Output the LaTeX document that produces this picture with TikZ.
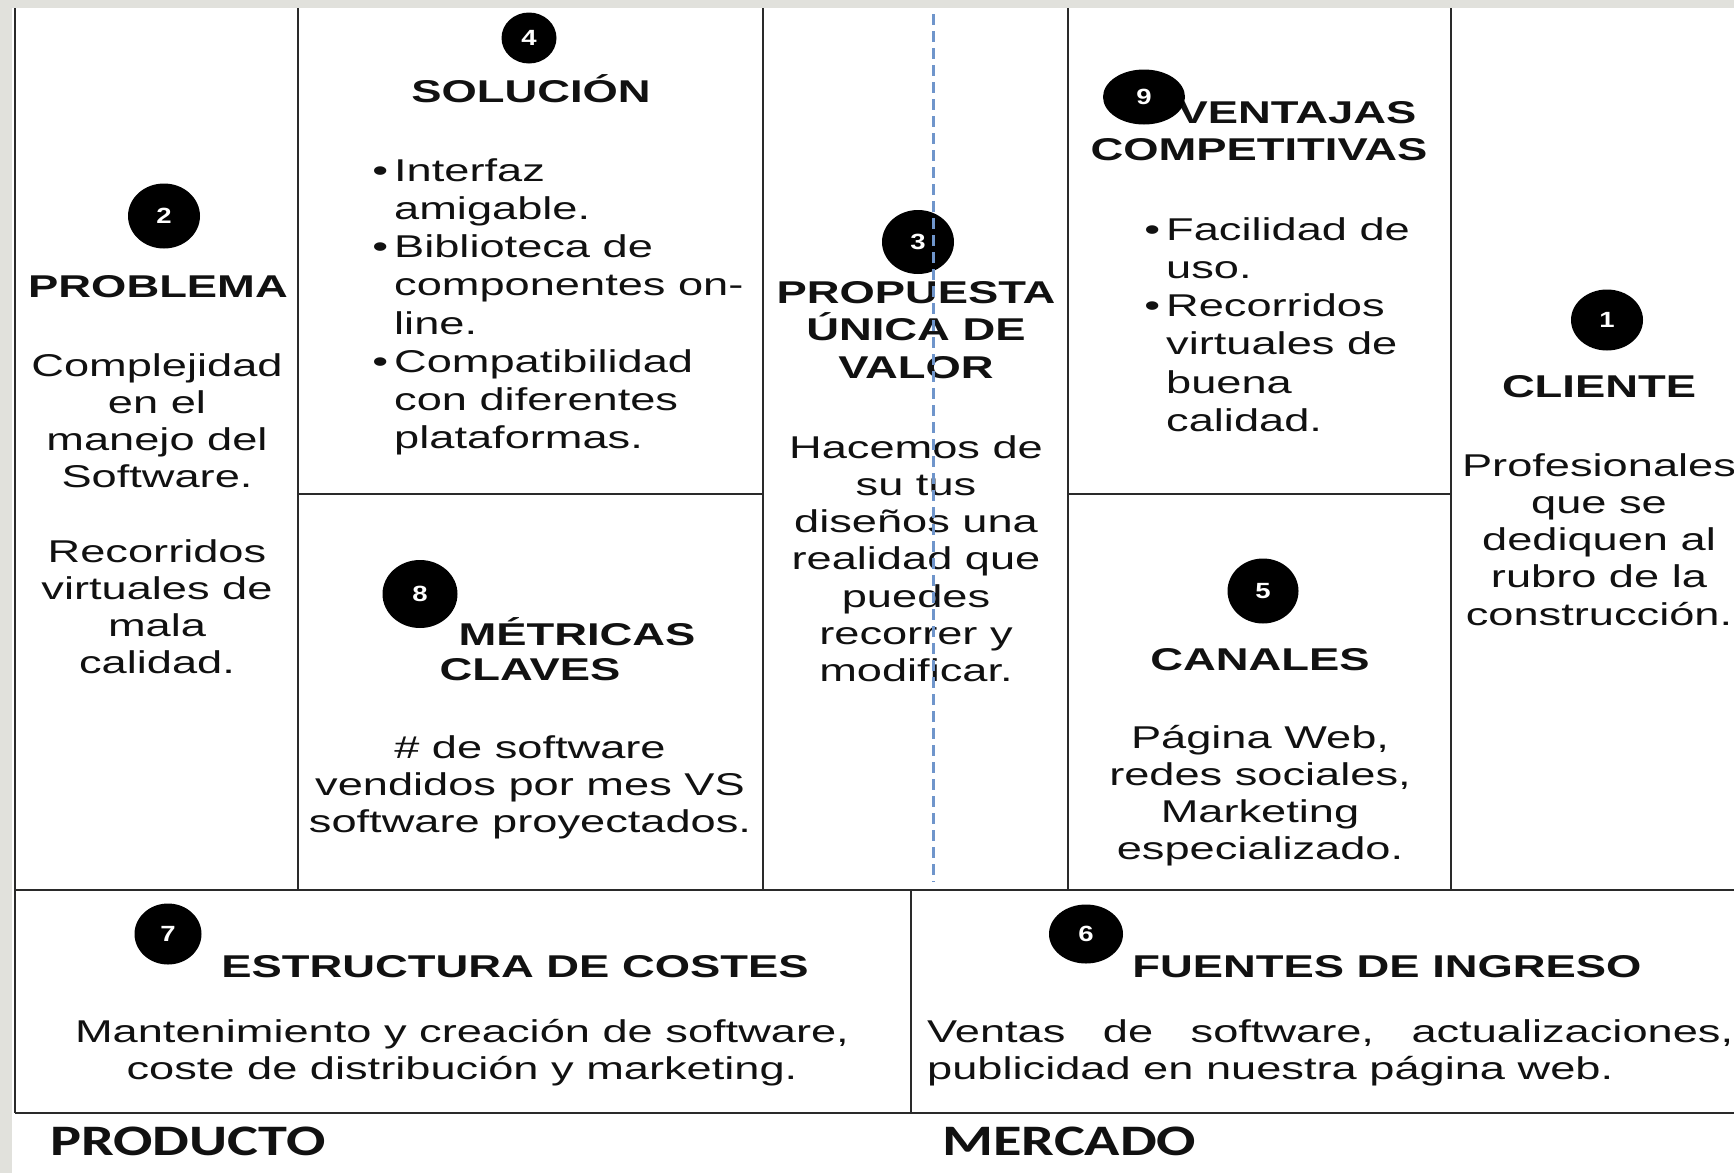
\documentclass[tikz,border=0pt]{standalone}
\usepackage{fontspec}
\usetikzlibrary{shapes.geometric}
\setmainfont{Liberation Sans}
\newfontfamily\bodyf[FakeStretch=1.435]{Liberation Sans}
\newfontfamily\headf[FakeStretch=1.44]{Liberation Sans}
\newfontfamily\numf[FakeStretch=1.25]{Liberation Sans}
\newfontfamily\calf[FakeStretch=1.34]{Carlito}
\definecolor{bggray}{HTML}{E1E1DC}
\definecolor{dashblue}{HTML}{6F95CB}
\definecolor{gridline}{HTML}{2A2A2A}
\definecolor{ink}{HTML}{111111}
\newcommand{\fl}{\rule{0pt}{30pt}}
\newcommand{\bul}{\llap{\textbullet\hspace{6pt}}}
\tikzset{
  body/.style={font=\bodyf\fontsize{31.5}{37.2}\selectfont, text=ink, inner sep=0pt, align=center, anchor=north},
  blist/.style={font=\bodyf\fontsize{31.5}{38.2}\selectfont, text=ink, inner sep=0pt, align=left, anchor=north west},
  head/.style={font=\headf\bfseries\fontsize{31.5}{37}\selectfont, text=ink, inner sep=0pt, anchor=base},
  num/.style={ellipse, fill=black, inner sep=0pt, text=white, font=\numf\bfseries\fontsize{22}{22}\selectfont},
  grid/.style={draw=gridline, line width=2.4pt},
  side/.style={font=\calf\bfseries\fontsize{43.5}{44}\selectfont, text=ink, inner sep=0pt, anchor=base west},
}
\begin{document}
\begin{tikzpicture}[x=1pt,y=-1pt]
\useasboundingbox (0,0) rectangle (1734,1173);
\fill[bggray] (0,0) rectangle (1734,1173);
\fill[white] (12,8) rectangle (1734,1173);

% grid lines
\draw[grid] (15,8) -- (15,1113);
\draw[grid] (298,8) -- (298,890);
\draw[grid] (763,8) -- (763,890);
\draw[grid] (1068,8) -- (1068,890);
\draw[grid] (1451,8) -- (1451,890);
\draw[grid] (298,494) -- (763,494);
\draw[grid] (1068,494) -- (1451,494);
\draw[grid] (15,890) -- (1734,890);
\draw[grid] (911,890) -- (911,1113);
\draw[grid] (15,1113) -- (1734,1113);

% column 1: problema
\node[head] (hprob) at (158,297) {PROBLEMA};
\node[body] (bprob) at (157,346) {\fl Complejidad\\en el\\manejo del\\Software.\\[37.2pt]Recorridos\\virtuales de\\mala\\calidad.};

% column 2 top: solucion
\node[head] (hsol) at (531,102) {SOLUCIÓN};
\node[blist] (bsol) at (394,151) {\fl\bul Interfaz\\amigable.\\\bul Biblioteca de\\componentes on-\\line.\\\bul Compatibilidad\\con diferentes\\plataformas.};

% column 2 bottom: metricas
\node[head] (hmet1) at (577,645) {MÉTRICAS};
\node[head] (hmet2) at (530,680) {CLAVES};
\node[body] (bmet) at (530,728) {\fl\# de software\\vendidos por mes VS\\software proyectados.};

% column 3: propuesta
\node[head] (hprop1) at (916,303) {PROPUESTA};
\node[head] (hprop2) at (916,340) {ÚNICA DE};
\node[head] (hprop3) at (916,378) {VALOR};
\node[body] (bprop) at (916,428) {\fl Hacemos de\\su tus\\diseños una\\realidad que\\puedes\\recorrer y\\modificar.};

% column 4 top: ventajas
\node[head] (hven1) at (1297,123) {VENTAJAS};
\node[head] (hven2) at (1259,160) {COMPETITIVAS};
\node[blist] (bven) at (1166,210) {\fl\bul Facilidad de\\uso.\\\bul Recorridos\\virtuales de\\buena\\calidad.};

% column 4 bottom: canales
\node[head] (hcan) at (1260,670) {CANALES};
\node[body] (bcan) at (1260,718) {\fl Página Web,\\redes sociales,\\Marketing\\especializado.};

% column 5: cliente
\node[head] (hcli) at (1599,397) {CLIENTE};
\node[body] (bcli) at (1599,446) {\fl Profesionales\\que se\\dediquen al\\rubro de la\\construcción.};

% bottom row
\node[head] (hcos) at (515,977) {ESTRUCTURA DE COSTES};
\node[body] (bcos) at (462,1012) {\fl Mantenimiento y creación de software,\\coste de distribución y marketing.};
\node[head] (hing) at (1387,977) {FUENTES DE INGRESO};
\node[blist, font=\bodyf\fontsize{31.5}{37.2}\selectfont] (bing) at (927,1012) {\fl\makebox[806pt][s]{Ventas\hfill de\hfill software,\hfill actualizaciones,}\\publicidad en nuestra página web.};

% side labels
\node[side] (lprod) at (50,1155) {PRODUCTO};
\node[side] (lmerc) at (942,1155) {MERCADO};

% number badges
\node[num, minimum width=55pt, minimum height=51pt] (n4) at (529,38) {4};
\node[num, minimum width=72pt, minimum height=65pt] (n2) at (164,216) {2};
\node[num, minimum width=72pt, minimum height=64pt] (n3) at (918,242) {3};
\node[num, minimum width=82pt, minimum height=55pt] (n9) at (1144,97) {9};
\node[num, minimum width=72pt, minimum height=61pt] (n1) at (1607,320) {1};
\node[num, minimum width=75pt, minimum height=68pt] (n8) at (420,594) {8};
\node[num, minimum width=71pt, minimum height=65pt] (n5) at (1263,591) {5};
\node[num, minimum width=67pt, minimum height=61pt] (n7) at (168,934) {7};
\node[num, minimum width=74pt, minimum height=59pt] (n6) at (1086,934) {6};

% dashed guide
\coordinate (dtop) at (933,14);
\coordinate (dbot) at (933,882);
\draw[dashblue, line width=3pt, dash pattern=on 11pt off 6pt] (dtop) -- (dbot);
\end{tikzpicture}
\end{document}
